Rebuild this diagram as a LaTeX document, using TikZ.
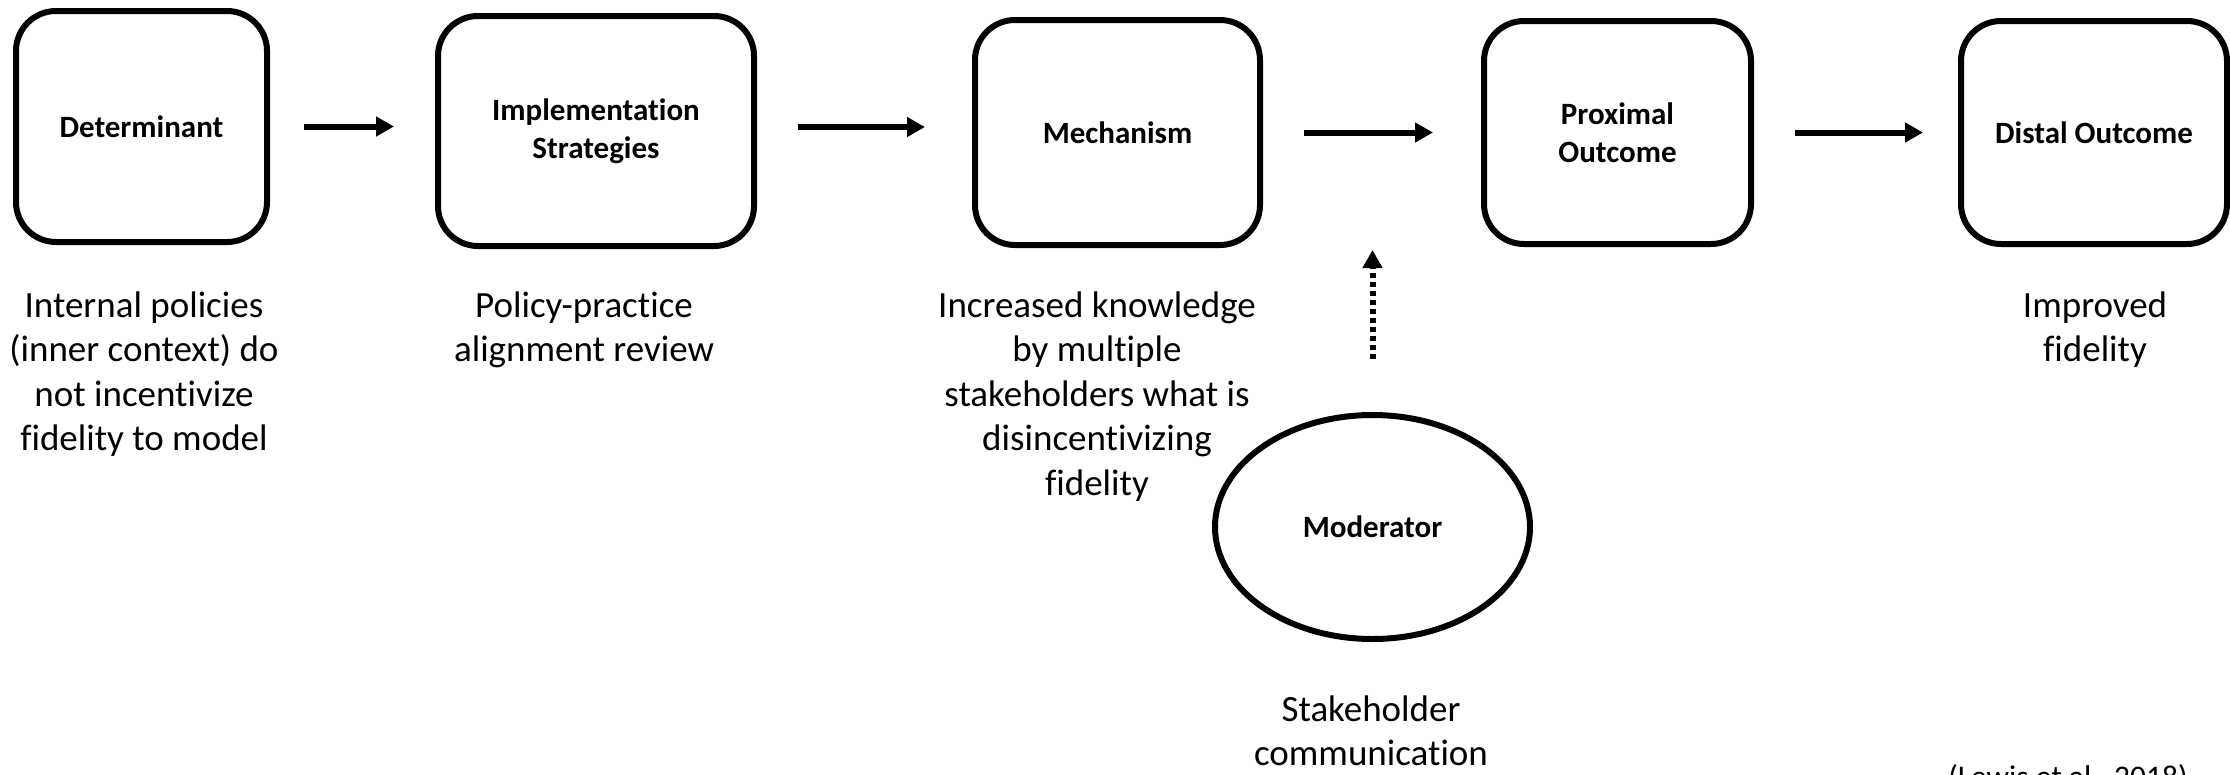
\documentclass[tikz,border=0pt]{standalone}
\usepackage{fontspec}
\setmainfont{Carlito}[Ligatures=NoCommon]
\usetikzlibrary{arrows.meta,shapes.geometric}

\tikzset{
  stagebox/.style={draw, line width=6pt, rounded corners=40pt, inner sep=0pt,
    align=center, font=\fontsize{31}{38}\selectfont\bfseries},
  modbox/.style={draw, ellipse, line width=6pt, inner sep=0pt,
    font=\fontsize{31}{38}\selectfont\bfseries},
  note/.style={align=center, inner sep=0pt, anchor=base,
    font=\fontsize{37}{44.5}\selectfont},
  flow/.style={line width=6pt, -{Triangle[length=18pt,width=19pt]}},
  modflow/.style={line width=6pt, dash pattern=on 5pt off 4pt,
    -{Triangle[length=18pt,width=19pt]}},
}

\begin{document}
\begin{tikzpicture}[x=1pt, y=-1pt]
  \useasboundingbox (0,0) rectangle (2230,774);
  \clip (0,0) rectangle (2230,774);

  % stages of the causal pathway
  \node[stagebox, minimum width=251pt, minimum height=231pt] (b1) at (141.5,126.5) {Determinant};
  \node[stagebox, minimum width=316pt, minimum height=230pt] (b2) at (596,131) {Implementation\\Strategies};
  \node[stagebox, minimum width=285pt, minimum height=225pt] (b3) at (1117.5,132.5) {Mechanism};
  \node[stagebox, minimum width=267pt, minimum height=223pt] (b4) at (1617.5,132.5) {Proximal\\Outcome};
  \node[stagebox, minimum width=266pt, minimum height=223pt] (b5) at (2094,132.5) {Distal Outcome};

  % moderator
  \node[modbox, minimum width=315pt, minimum height=224pt] (m) at (1372.5,527) {Moderator};

  % arrows between stages
  \draw[flow, shorten <=34pt, shorten >=41pt] (b1.east) -- (b1.east -| b2.west);
  \draw[flow, shorten <=41pt, shorten >=47pt] ([yshift=4pt]b2.east) -- ([yshift=4pt]b2.east -| b3.west);
  \draw[flow, shorten <=41pt, shorten >=48pt] (b3.east) -- (b3.east -| b4.west);
  \draw[flow, shorten <=41pt, shorten >=35pt] (b4.east) -- (b4.east -| b5.west);

  % moderating effect
  \draw[modflow, shorten <=53pt, shorten >=2pt] (m.north) -- (m.north |- b3.south);

  % descriptions (anchored at the baseline of their last line)
  \node[note] (t1) at (144,450.5) {Internal policies\\(inner context) do\\not incentivize\\fidelity to model};
  \node[note] (t2) at (584,361.5) {Policy-practice\\alignment review};
  \node[note] (t3) at (1097,495) {Increased knowledge\\by multiple\\stakeholders what is\\disincentivizing\\fidelity};
  \node[note] (t5) at (2095,361.5) {Improved\\fidelity};
  \node[note] (tm) at (1371,765.5) {Stakeholder\\communication};

  % source
  \node[note, font=\fontsize{31.5}{38}\selectfont] (src) at (2068,787) {(Lewis et al., 2018)};
\end{tikzpicture}
\end{document}
